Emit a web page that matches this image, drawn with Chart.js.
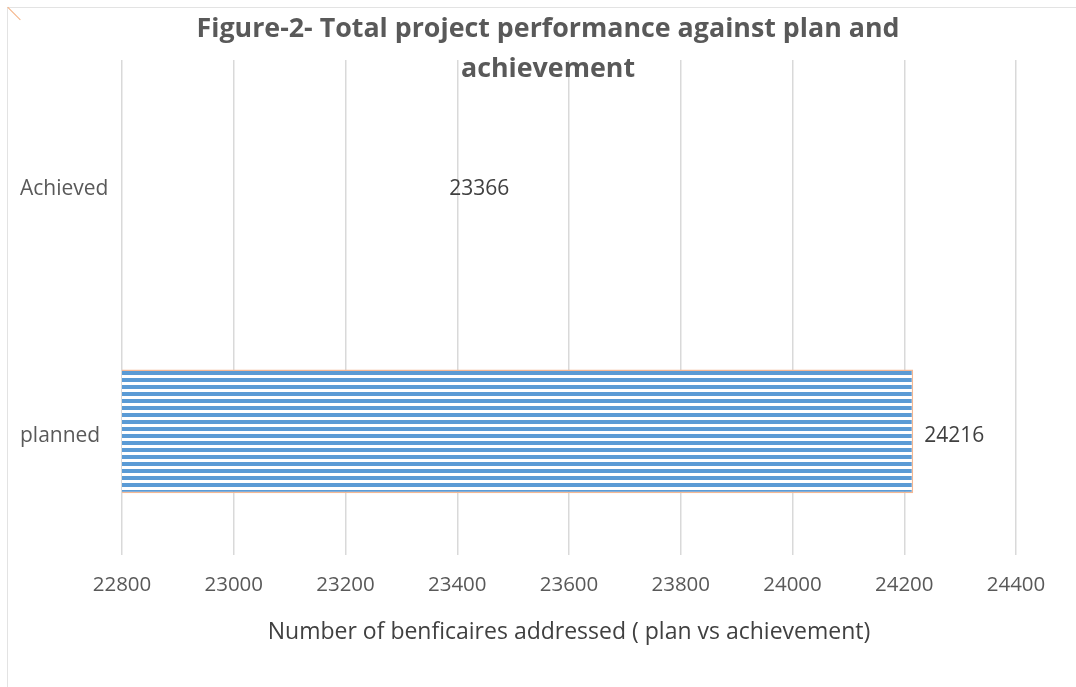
<!DOCTYPE html>
<html><head><meta charset="utf-8">
<script src="https://cdn.jsdelivr.net/npm/chart.js@4/dist/chart.umd.min.js"></script>
<style>
html,body{margin:0;padding:0;background:#fff;}
#wrap{position:relative;width:1076px;height:687px;overflow:hidden;background:#fff;}
#frame{position:absolute;left:7px;top:7px;width:1200px;height:800px;border-top:1px solid #e3e3e3;border-left:1px solid #e3e3e3;}
#mark{position:absolute;left:5px;top:13px;width:18px;height:1px;background:#f4b183;transform:rotate(45deg);}
canvas{position:absolute;left:0;top:0;}
</style></head>
<body><div id="wrap"><div id="frame"></div><div id="mark"></div><canvas id="c" width="1076" height="687"></canvas></div>
<script>
const categories = ['Achieved', 'planned'];
const values = [23366, 24216];
const xTickValues = [22800, 23000, 23200, 23400, 23600, 23800, 24000, 24200, 24400];
const titleLines = ['Figure-2- Total project performance against plan and', 'achievement'];
const xAxisTitle = 'Number of benficaires addressed ( plan vs achievement)';

const FONT = "'Open Sans', sans-serif";
const GREY = '#595959';

function stripePattern() {
  const c = document.createElement('canvas');
  c.width = 8; c.height = 7;
  const g = c.getContext('2d');
  g.fillStyle = '#ffffff'; g.fillRect(0, 0, 8, 7);
  g.fillStyle = '#5b9bd5'; g.fillRect(0, 0, 8, 4);
  return document.getElementById('c').getContext('2d').createPattern(c, 'repeat');
}

const titlePlugin = {
  id: 'titleDraw',
  afterDraw(chart) {
    const ctx = chart.ctx;
    ctx.save();
    ctx.fillStyle = GREY;
    ctx.font = "bold 26.8px " + FONT;
    ctx.textAlign = 'center';
    ctx.textBaseline = 'middle';
    ctx.fillText(titleLines[0], 548, 29);
    ctx.fillText(titleLines[1], 548, 69);
    ctx.restore();
  }
};

const labelPlugin = {
  id: 'valueLabels',
  afterDatasetsDraw(chart) {
    const ctx = chart.ctx;
    const meta = chart.getDatasetMeta(0);
    ctx.save();
    ctx.fillStyle = '#404040';
    ctx.font = "21px " + FONT;
    ctx.textAlign = 'left';
    ctx.textBaseline = 'middle';
    meta.data.forEach((el, i) => {
      ctx.fillText(String(values[i]), el.x + 11, el.y + 5);
    });
    ctx.restore();
  }
};

new Chart(document.getElementById('c'), {
  type: 'bar',
  data: {
    labels: categories,
    datasets: [{
      data: values,
      backgroundColor: ['rgba(0,0,0,0)', stripePattern()],
      borderColor: ['rgba(0,0,0,0)', '#f4b894'],
      borderWidth: [0, 1.5],
      borderSkipped: false,
      barPercentage: 0.5,
      categoryPercentage: 1
    }]
  },
  options: {
    indexAxis: 'y',
    responsive: false,
    animation: false,
    devicePixelRatio: 1,
    layout: { padding: { left: 20, right: 60, top: 60, bottom: 0 } },
    plugins: { legend: { display: false }, title: { display: false }, tooltip: { enabled: false } },
    scales: {
      x: {
        type: 'linear',
        min: xTickValues[0],
        max: xTickValues[xTickValues.length - 1],
        afterBuildTicks(scale) { scale.ticks = xTickValues.map(v => ({ value: v })); },
        afterFit(scale) { scale.height = 132; },
        grid: { color: '#d9d9d9', lineWidth: 1.5, drawTicks: false },
        border: { display: false },
        ticks: { color: GREY, font: { family: FONT, size: 20.5 }, padding: 18, callback: v => String(v), maxRotation: 0 },
        title: { display: true, text: xAxisTitle, color: '#404040', font: { family: FONT, size: 23 }, padding: { top: 0, bottom: 41 } }
      },
      y: {
        afterFit(scale) { scale.width = 102; },
        grid: { display: false, drawTicks: false },
        border: { display: false },
        ticks: { color: GREY, font: { family: FONT, size: 21 }, crossAlign: 'far', padding: 0, labelOffset: 5 }
      }
    }
  },
  plugins: [titlePlugin, labelPlugin]
});
</script>
</body></html>
